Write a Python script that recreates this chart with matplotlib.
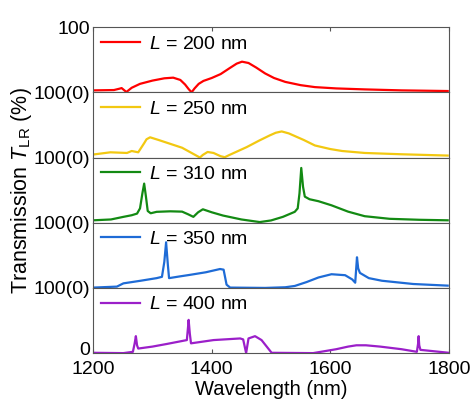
import numpy as np
import matplotlib
matplotlib.use('Agg')
import matplotlib.pyplot as plt
import matplotlib.transforms as mtrans

plt.rcParams['font.family'] = ['Liberation Sans', 'DejaVu Sans']
plt.rcParams['mathtext.fontset'] = 'custom'
plt.rcParams['mathtext.rm'] = 'Liberation Sans'
plt.rcParams['mathtext.it'] = 'Liberation Sans:italic'

# transmission spectra (wavelength in nm, T_LR in %), one list per length
lengths = [200, 250, 310, 350, 400]
colors = ['#ff0000', '#f2c811', '#138a13', '#1e6bd6', '#9b1fc9']

wl_200 = [1200, 1235, 1244, 1248, 1256, 1265, 1279, 1300, 1320, 1335, 1347, 1355, 1361, 1366, 1371,
          1378, 1386, 1400, 1415, 1430, 1442, 1451, 1462, 1475, 1490, 1505, 1524, 1550, 1574, 1610,
          1658, 1720, 1798]
t_200 = [3, 3.5, 5.5, 6.5, 0.5, 7, 13, 18, 21.5, 22.5, 19, 12, 5, 0, 6,
         13, 17.5, 22, 28, 37, 44, 47, 45, 38, 29, 22, 16, 11, 8, 6,
         4.5, 3, 2]

wl_250 = [1200, 1229, 1257, 1265, 1276, 1286, 1290, 1296, 1310, 1330, 1350, 1370, 1380, 1385, 1393,
          1403, 1415, 1422, 1430, 1459, 1480, 1498, 1508, 1518, 1530, 1555, 1574, 1600, 1620, 1658,
          1720, 1798]
t_250 = [4.6, 8, 7, 10, 8, 22, 28, 31, 27, 21, 15, 5, 0, 4, 8.5,
         7, 2, 0.5, 4, 16, 26, 34, 38, 40, 37, 27, 18.5, 13, 10, 7,
         5, 3]

wl_310 = [1200, 1230, 1251, 1265, 1274, 1279, 1283, 1286, 1289, 1292, 1297, 1307, 1330, 1350, 1360,
          1369, 1377, 1385, 1400, 1419, 1450, 1481, 1500, 1520, 1540, 1545, 1548, 1551, 1554, 1557,
          1565, 1580, 1602, 1630, 1658, 1700, 1750, 1798]
t_310 = [3.7, 5, 9, 11.5, 14, 22, 45, 60, 40, 18, 14.5, 16.7, 17.5, 17, 13,
         9, 16, 20.6, 16, 11, 5, 1, 3.5, 9, 16.7, 22, 45, 84, 55, 40,
         36, 33, 26.7, 17, 10, 6, 4.5, 3.7]

wl_350 = [1200, 1240, 1251, 1280, 1307, 1316, 1320, 1323, 1326, 1328, 1345, 1363, 1390, 1414, 1420,
          1425, 1431, 1490, 1524, 1540, 1560, 1580, 1602, 1625, 1637, 1642, 1645, 1647, 1650, 1665,
          1687, 1740, 1798]
t_350 = [0.5, 2, 7, 11, 15, 17, 40, 70, 35, 15, 17.5, 20, 24, 29, 28,
         5, 0.5, 0, 1, 3, 9, 16, 21, 19.5, 13, 8, 47, 30, 23, 15,
         11, 6, 3.5]

wl_400 = [1200, 1251, 1267, 1270, 1272, 1274, 1276, 1300, 1324, 1358, 1360, 1361, 1363, 1365, 1403,
          1448, 1453, 1458, 1462, 1473, 1484, 1501, 1571, 1610, 1630, 1644, 1660, 1684, 1720, 1746,
          1748, 1749, 1750, 1752, 1800]
t_400 = [0.5, 0, 2, 15, 26, 12, 7, 10, 14, 20, 40, 51, 30, 15, 20,
         22.5, 21, 0, 22.5, 26, 20, 0.5, 0, 6, 10, 12, 12, 10, 6, 2,
         14, 26, 12, 5, 0.5]

wls = [wl_200, wl_250, wl_310, wl_350, wl_400]
trans = [t_200, t_250, t_310, t_350, t_400]

fig, axes = plt.subplots(5, 1, sharex=True, figsize=(4.73, 3.99), dpi=100,
                         gridspec_kw=dict(hspace=0))
fig.subplots_adjust(left=0.197, right=0.949, bottom=0.115, top=0.932)

frame = '#555555'
for i, ax in enumerate(axes):
    ax.plot(wls[i], trans[i], color=colors[i], lw=1.6, label=r'$L$ = %d nm' % lengths[i])
    ax.set_ylim(0, 100)
    ax.set_xlim(1200, 1800)
    for s in ax.spines.values():
        s.set_color(frame)
    if i == 0:
        ax.set_yticks([0, 100])
        ax.set_yticklabels(['100(0)', '100'])
    elif i == 4:
        ax.set_yticks([0])
        ax.set_yticklabels(['0'])
    else:
        ax.set_yticks([0])
        ax.set_yticklabels(['100(0)'])
    ax.tick_params(axis='y', length=0, labelsize=14, pad=2)
    ax.tick_params(axis='x', direction='in', top=(i == 0), bottom=(i == 4),
                   labelsize=14, color=frame, length=3, pad=6)
    ax.legend(loc='upper left', frameon=False, fontsize=14, handlelength=2.0,
              borderaxespad=0.15, borderpad=0.25, handletextpad=0.45)

axes[-1].set_xticks([1200, 1400, 1600, 1800])
axes[-1].set_xlabel('Wavelength (nm)', fontsize=14.5, labelpad=1)
axes[2].set_ylabel(r'Transmission $T_{\mathrm{LR}}$ (%)', fontsize=15.5, labelpad=0)

# lift the bottom "0" a little so it clears the 1200 label
lift = mtrans.ScaledTranslation(0, 3 / 72, fig.dpi_scale_trans)
for lab in axes[-1].get_yticklabels():
    lab.set_transform(lab.get_transform() + lift)

plt.savefig('out.png', dpi=100)
